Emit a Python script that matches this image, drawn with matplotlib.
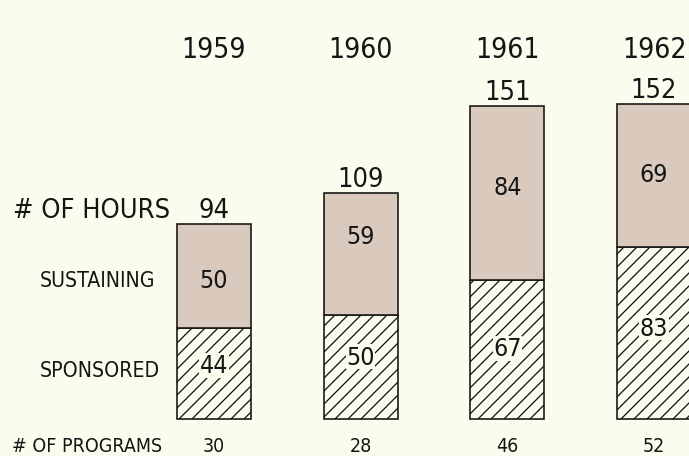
import matplotlib
matplotlib.use('Agg')
import matplotlib.pyplot as plt
import matplotlib.transforms as mtransforms

# data
years = ['1959', '1960', '1961', '1962']
sponsored = [44, 50, 67, 83]
sustaining = [50, 59, 84, 69]
programs = [30, 28, 46, 52]
totals = [s + u for s, u in zip(sponsored, sustaining)]

# style
bg = '#fcfcee'
sus_color = '#d9cabd'
ink = '#151515'
plt.rcParams['font.family'] = ['DejaVu Sans']
plt.rcParams['font.stretch'] = 'condensed'
plt.rcParams['hatch.linewidth'] = 1.2
plt.rcParams['hatch.color'] = ink

DPI = 78
fig = plt.figure(figsize=(689 / DPI, 457 / DPI), dpi=DPI, facecolor=bg)
ax = fig.add_axes([0, 0, 1, 1], facecolor=bg)
ax.set_xlim(-214 / 146.7, (689 - 214) / 146.7)
ax.set_ylim(-37 / 2.075, 420 / 2.075)
ax.axis('off')

x = list(range(len(years)))
w = 0.504

ax.bar(x, sponsored, w, color=bg, edgecolor=ink, hatch='//', linewidth=1.5)
ax.bar(x, sustaining, w, bottom=sponsored, color=sus_color, edgecolor=ink, linewidth=1.5)

# label heights inside bars (data units)
sus_label_y = [67, 88, 112, 118]
spo_label_y = [26, 30, 34, 44]

col_row = mtransforms.blended_transform_factory(ax.transData, ax.transAxes)
row_col = mtransforms.blended_transform_factory(ax.transAxes, ax.transData)

for i in x:
    ax.text(i, 0.873, years[i], transform=col_row, ha='center', va='baseline',
            fontsize=26, color=ink)
    ax.annotate(str(totals[i]), (i, totals[i]), xytext=(0, 7), textcoords='offset pixels',
                ha='center', va='baseline', fontsize=25, color=ink)
    ax.text(i, sus_label_y[i], str(sustaining[i]), ha='center', va='center',
            fontsize=23, color=ink)
    ax.text(i, spo_label_y[i], str(sponsored[i]), ha='center', va='center',
            fontsize=23, color=ink,
            bbox=dict(facecolor=bg, edgecolor='none', pad=0.5))
    ax.text(i, 0.011, str(programs[i]), transform=col_row, ha='center', va='baseline',
            fontsize=18, color=ink)

# row labels on the left
ax.annotate('# OF HOURS', (0.019, totals[0]), xycoords=row_col, xytext=(0, 7),
            textcoords='offset pixels', ha='left', va='baseline', fontsize=25, color=ink)
ax.text(0.058, 0.372, 'SUSTAINING', transform=ax.transAxes, ha='left', va='baseline',
        fontsize=19.5, color=ink)
ax.text(0.058, 0.175, 'SPONSORED', transform=ax.transAxes, ha='left', va='baseline',
        fontsize=19.5, color=ink)
ax.text(0.018, 0.011, '# OF PROGRAMS', transform=ax.transAxes, ha='left', va='baseline',
        fontsize=18, color=ink)

fig.savefig('out.png', dpi=DPI, facecolor=bg)
